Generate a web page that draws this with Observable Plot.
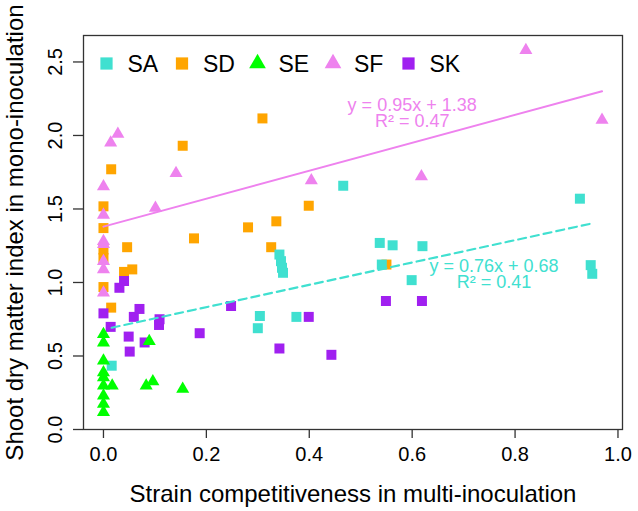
<!DOCTYPE html>
<html>
<head>
<meta charset="utf-8">
<script src="https://cdn.jsdelivr.net/npm/d3@7"></script>
<script src="https://cdn.jsdelivr.net/npm/@observablehq/plot@0.6"></script>
<style>
  body { margin: 0; background: #fff; }
  #chart svg { display: block; }
</style>
</head>
<body>
<div id="chart"></div>
<script>
// ---- data ----
const strains = ["SA", "SD", "SE", "SF", "SK"];
const strainColors = ["#40E0D0", "#FFA500", "#00FF00", "#EE82EE", "#A020F0"];
const strainShapes = ["square", "square", "triangle", "triangle", "square"];
const drawOrder = ["SD", "SA", "SE", "SF", "SK"];

const saX = [0.016, 0.300, 0.304, 0.342, 0.345, 0.347, 0.349, 0.375, 0.466, 0.537, 0.541, 0.562, 0.599, 0.620, 0.926, 0.947, 0.950];
const saY = [0.434, 0.689, 0.772, 1.19, 1.145, 1.10, 1.066, 0.766, 1.658, 1.269, 1.122, 1.253, 1.016, 1.247, 1.57, 1.118, 1.059];

const sdX = [0, 0, 0, 0, 0, 0.015, 0.015, 0.040, 0.056, 0.046, 0.154, 0.176, 0.281, 0.309, 0.326, 0.336, 0.399, 0.55];
const sdY = [1.518, 1.37, 1.224, 1.167, 0.969, 1.77, 0.829, 1.072, 1.089, 1.24, 1.93, 1.30, 1.375, 2.116, 1.24, 1.416, 1.522, 1.122];

const seX = [0, 0, 0, 0, 0, 0, 0, 0, 0, 0.017, 0.083, 0.096, 0.154, 0.089];
const seY = [0.648, 0.59, 0.467, 0.388, 0.354, 0.298, 0.23, 0.174, 0.117, 0.298, 0.298, 0.327, 0.276, 0.60];

const sfX = [0, 0, 0, 0, 0, 0, 0, 0.014, 0.028, 0.101, 0.141, 0.404, 0.618, 0.821, 0.969];
const sfY = [1.653, 1.46, 1.28, 1.26, 1.145, 1.089, 0.93, 1.95, 2.01, 1.506, 1.743, 1.694, 1.721, 2.579, 2.105];

const skX = [0, 0.014, 0.031, 0.040, 0.049, 0.051, 0.059, 0.070, 0.080, 0.108, 0.109, 0.187, 0.248, 0.342, 0.399, 0.443, 0.549, 0.619];
const skY = [0.79, 0.698, 0.964, 1.01, 0.632, 0.53, 0.766, 0.82, 0.592, 0.711, 0.75, 0.655, 0.84, 0.551, 0.766, 0.508, 0.874, 0.874];

// fitted lines printed on the chart
const fitStrain = ["SF", "SA"];
const fitSlope = [0.95, 0.76];
const fitIntercept = [1.38, 0.68];
const fitR2 = ["0.47", "0.41"];

const xTicks = [0, 0.2, 0.4, 0.6, 0.8, 1.0];
const yTicks = [0, 0.5, 1.0, 1.5, 2.0, 2.5];
const xTitle = "Strain competitiveness in multi-inoculation";
const yTitle = "Shoot dry matter index in mono-inoculation";

// ---- build tables ----
const series = {SA: [saX, saY], SD: [sdX, sdY], SE: [seX, seY], SF: [sfX, sfY], SK: [skX, skY]};
const points = drawOrder.flatMap(s => series[s][0].map((x, i) => ({strain: s, x, y: series[s][1][i]})));
const shapeOf = s => strainShapes[strains.indexOf(s)];
const squares = points.filter(d => shapeOf(d.strain) === "square");
const triangles = points.filter(d => shapeOf(d.strain) === "triangle");

const fitLines = fitStrain.flatMap((s, i) => {
  const xs = series[s][0];
  return [d3.min(xs), d3.max(xs)].map(x => ({strain: s, x, y: fitIntercept[i] + fitSlope[i] * x}));
});
const fitLabel = i => `y = ${fitSlope[i].toFixed(2)}x + ${fitIntercept[i].toFixed(2)}\nR² = ${fitR2[i]}`;
const fitAt = (i, x) => [{strain: fitStrain[i], x, y: fitIntercept[i] + fitSlope[i] * x, label: fitLabel(i)}];

const font = '"Liberation Sans", Arial, sans-serif';

// legend marks (inside the frame, top-left)
const legendMarks = strains.flatMap((s, i) => [
  Plot.dot([s], {frameAnchor: "top-left", dx: 23 + 75.5 * i, dy: 28, symbol: d => d, fill: d => d,
                 r: strainShapes[i] === "square" ? 6.9 : 6.2}),
  Plot.text([s], {frameAnchor: "top-left", dx: 44 + 75.5 * i, dy: 29, text: d => d, textAnchor: "start",
                  lineAnchor: "middle", fontSize: 23, fill: "#000"})
]);

const chart = Plot.plot({
  width: 638,
  height: 511,
  marginLeft: 83,
  marginRight: 16,
  marginTop: 35,
  marginBottom: 82,
  style: {fontFamily: font, fontSize: "20px", color: "#000", background: "#fff"},
  x: {domain: [-0.0388, 1.0088]},
  y: {domain: [0, 2.68]},
  color: {domain: strains, range: strainColors},
  symbol: {domain: strains, range: strainShapes},
  marks: [
    Plot.axisX({ticks: xTicks, tickSize: 9, tickPadding: 8, tickFormat: d3.format(".1f"), label: null,
                fontSize: 20, stroke: "#333", strokeWidth: 1.3}),
    Plot.axisY({ticks: yTicks, tickSize: 10, tickPadding: 12, tickRotate: -90, tickFormat: d3.format(".1f"),
                label: null, fontSize: 20, stroke: "#333", strokeWidth: 1.3}),
    Plot.text([xTitle], {frameAnchor: "bottom", dy: 72, lineAnchor: "bottom", textAnchor: "middle",
                         text: d => d, fontSize: 24, fill: "#000"}),
    Plot.text([yTitle], {frameAnchor: "left", dx: -78, rotate: -90, lineAnchor: "top", textAnchor: "middle",
                         text: d => d, fontSize: 24, fill: "#000"}),
    Plot.dot(squares, {x: "x", y: "y", fill: "strain", symbol: "strain", r: 5.64}),
    Plot.dot(triangles, {x: "x", y: "y", fill: "strain", symbol: "strain", r: 4.85}),
    Plot.line(fitLines.filter(d => d.strain === "SF"), {x: "x", y: "y", stroke: "strain", strokeWidth: 2}),
    Plot.line(fitLines.filter(d => d.strain === "SA"), {x: "x", y: "y", stroke: "strain", strokeWidth: 2.2, strokeDasharray: "8,5"}),
    Plot.text(fitAt(0, 0.6), {x: "x", y: "y", text: "label", fill: "strain", fontSize: 18, lineHeight: 0.9, dy: -29}),
    Plot.text(fitAt(1, 0.759), {x: "x", y: "y", text: "label", fill: "strain", fontSize: 18, lineHeight: 0.9, dy: 30}),
    ...legendMarks,
    Plot.frame({stroke: "#333", strokeWidth: 1.3})
  ]
});

document.getElementById("chart").appendChild(chart);
</script>
</body>
</html>
